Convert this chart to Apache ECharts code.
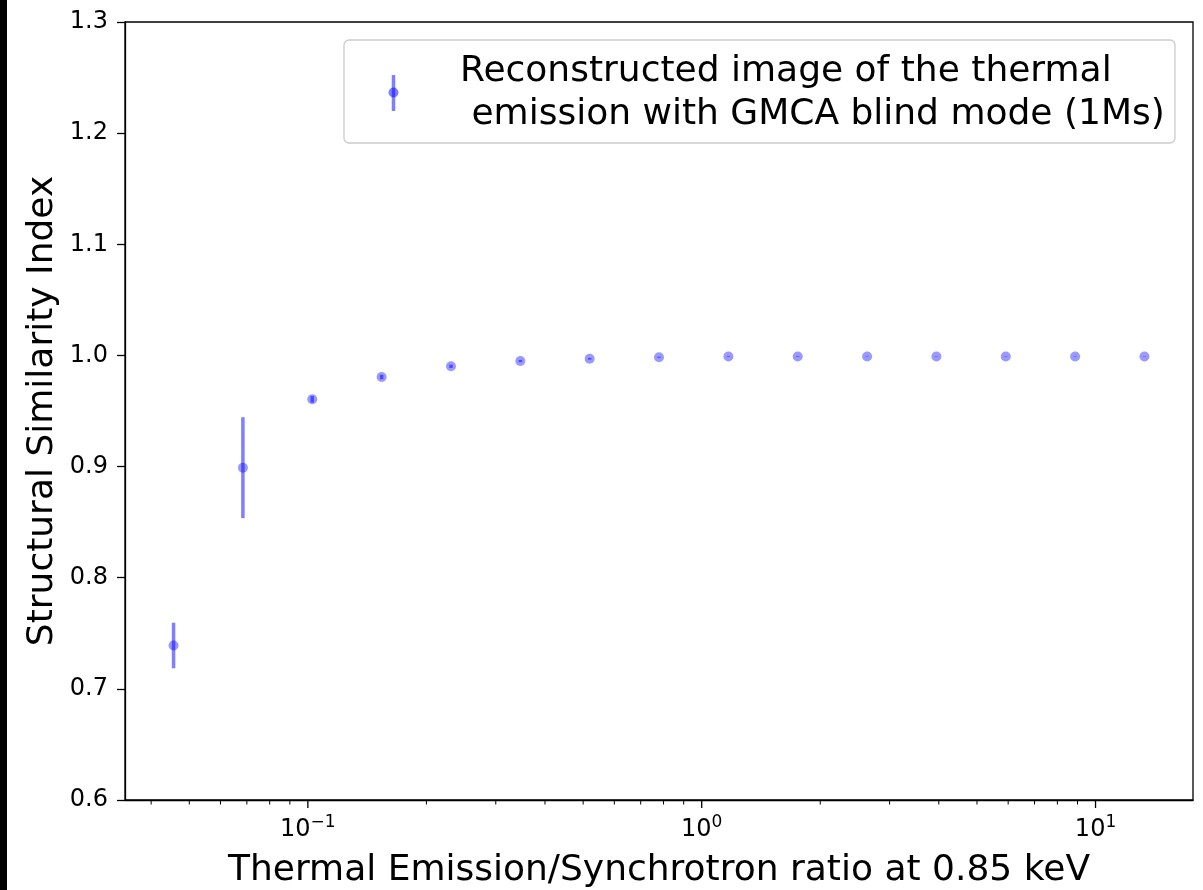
<!DOCTYPE html>
<html>
<head>
<meta charset="utf-8">
<script src="https://cdn.jsdelivr.net/npm/echarts@6/dist/echarts.min.js"></script>
<style>
  html, body { margin: 0; padding: 0; background: #fff; }
  #chart { width: 1203px; height: 890px; }
</style>
</head>
<body>
<div id="chart"></div>
<script>
// ---- data ----
const ratioValues = [0.0456, 0.0684, 0.1026, 0.1539, 0.2309, 0.3463, 0.5194, 0.7791, 1.169, 1.753, 2.630, 3.944, 5.917, 8.875, 13.31];
const ssimValues  = [0.739, 0.899, 0.9605, 0.9806, 0.9902, 0.995, 0.997, 0.9983, 0.999, 0.999, 0.999, 0.999, 0.999, 0.999, 0.999];
const ssimErrors  = [0.0205, 0.0454, 0.003, 0.002, 0.0015, 0.001, 0.0008, 0.0005, 0.0003, 0.0003, 0.0002, 0.0002, 0.0002, 0.0002, 0.0002];

const xMajorTicks = [0.1, 1, 10];
const xMajorExponents = ['\u22121', '0', '1'];
const xMinorTicks = [0.04, 0.05, 0.06, 0.07, 0.08, 0.09, 0.2, 0.3, 0.4, 0.5, 0.6, 0.7, 0.8, 0.9, 2, 3, 4, 5, 6, 7, 8, 9];
const yTicks = [0.6, 0.7, 0.8, 0.9, 1.0, 1.1, 1.2, 1.3];

const xTitle = 'Thermal Emission/Synchrotron ratio at 0.85 keV';
const yTitle = 'Structural Similarity Index';
const legendLines = ['Reconstructed image of the thermal', ' emission with GMCA blind mode (1Ms)'];

// ---- chart ----
const FONT = 'DejaVu Sans';
const BIG = '36px "' + FONT + '"';
const BLUE = 'rgba(0,0,255,0.5)';
const xMin = 0.03433, xMax = 17.68;
const yMin = yTicks[0], yMax = yTicks[yTicks.length - 1];

const chart = echarts.init(document.getElementById('chart'), null, { renderer: 'canvas' });

const option = {
  animation: false,
  backgroundColor: '#fff',
  grid: { left: 125, right: 10, top: 22, bottom: 90, show: true, borderColor: '#000', borderWidth: 1.3, backgroundColor: 'transparent' },
  xAxis: {
    type: 'log', logBase: 10, min: xMin, max: xMax,
    axisLine: { show: true, lineStyle: { color: '#000', width: 1.3 } },
    axisTick: { show: false }, axisLabel: { show: false },
    splitLine: { show: false }, minorTick: { show: false }
  },
  yAxis: {
    type: 'value', min: yMin, max: yMax, interval: 0.1,
    axisLine: { show: true, lineStyle: { color: '#000', width: 1.3 } },
    axisTick: { show: true, length: 8, lineStyle: { color: '#000', width: 1.3 } },
    axisLabel: { fontFamily: FONT, fontSize: 24, color: '#000', margin: 17, formatter: v => v.toFixed(1) },
    splitLine: { show: false }
  },
  graphic: [
    { type: 'rect', left: 0, top: 0, shape: { width: 7, height: 890 }, style: { fill: '#000' } },
    { type: 'text', x: 659, y: 871, style: { text: xTitle, font: BIG, fill: '#000', align: 'center', verticalAlign: 'middle' } },
    { type: 'text', x: 43, y: 411, rotation: Math.PI / 2, style: { text: yTitle, font: BIG, fill: '#000', align: 'center', verticalAlign: 'middle' } },
    { type: 'rect', shape: { x: 344, y: 40, width: 831, height: 103, r: 5 }, style: { fill: '#fff', stroke: '#cccccc', lineWidth: 1.3 }, z: 100 },
    { type: 'line', shape: { x1: 393.5, y1: 75, x2: 393.5, y2: 111 }, style: { stroke: BLUE, lineWidth: 3.5 }, z: 101 },
    { type: 'circle', shape: { cx: 393.5, cy: 92.5, r: 5 }, style: { fill: BLUE }, z: 101 },
    { type: 'text', x: 460, y: 72, style: { text: legendLines[0], font: BIG, fill: '#000', align: 'left', verticalAlign: 'middle' }, z: 101 },
    { type: 'text', x: 460, y: 115, style: { text: legendLines[1], font: BIG, fill: '#000', align: 'left', verticalAlign: 'middle' }, z: 101 }
  ],
  series: [
    {
      type: 'custom', name: 'errors', coordinateSystem: 'cartesian2d', clip: false, silent: true,
      data: ratioValues.map((x, i) => [x, ssimValues[i], ssimErrors[i]]),
      renderItem: function (params, api) {
        const x = api.value(0), y = api.value(1), e = api.value(2);
        const lo = api.coord([x, y - e]);
        const hi = api.coord([x, y + e]);
        return { type: 'line', shape: { x1: lo[0], y1: lo[1], x2: hi[0], y2: hi[1] }, style: { stroke: BLUE, lineWidth: 3.5 } };
      },
      z: 2
    },
    {
      type: 'scatter', name: 'points', silent: true,
      data: ratioValues.map((x, i) => [x, ssimValues[i]]),
      symbol: 'circle', symbolSize: 10,
      itemStyle: { color: BLUE },
      z: 3
    },
    {
      type: 'custom', name: 'xMajor', coordinateSystem: 'cartesian2d', clip: false, silent: true,
      data: xMajorTicks.map((v, i) => [v, yMin, i]),
      renderItem: function (params, api) {
        const p = api.coord([api.value(0), yMin]);
        const exp = xMajorExponents[api.value(2)];
        return {
          type: 'group',
          children: [
            { type: 'line', shape: { x1: p[0], y1: p[1], x2: p[0], y2: p[1] + 8 }, style: { stroke: '#000', lineWidth: 1.3 } },
            { type: 'text', x: p[0], y: p[1] + 14, style: {
                text: '{b|10}{s|' + exp + '}', align: 'center', verticalAlign: 'top',
                rich: {
                  b: { fontFamily: FONT, fontSize: 24, lineHeight: 32, color: '#000', verticalAlign: 'middle' },
                  s: { fontFamily: FONT, fontSize: 17, lineHeight: 17, color: '#000', verticalAlign: 'top' }
                } } }
          ]
        };
      },
      z: 5
    },
    {
      type: 'custom', name: 'xMinor', coordinateSystem: 'cartesian2d', clip: false, silent: true,
      data: xMinorTicks.map(v => [v, yMin]),
      renderItem: function (params, api) {
        const p = api.coord([api.value(0), yMin]);
        return { type: 'line', shape: { x1: p[0], y1: p[1], x2: p[0], y2: p[1] + 4.5 }, style: { stroke: '#000', lineWidth: 1 } };
      },
      z: 5
    }
  ]
};
chart.setOption(option);
</script>
</body>
</html>
